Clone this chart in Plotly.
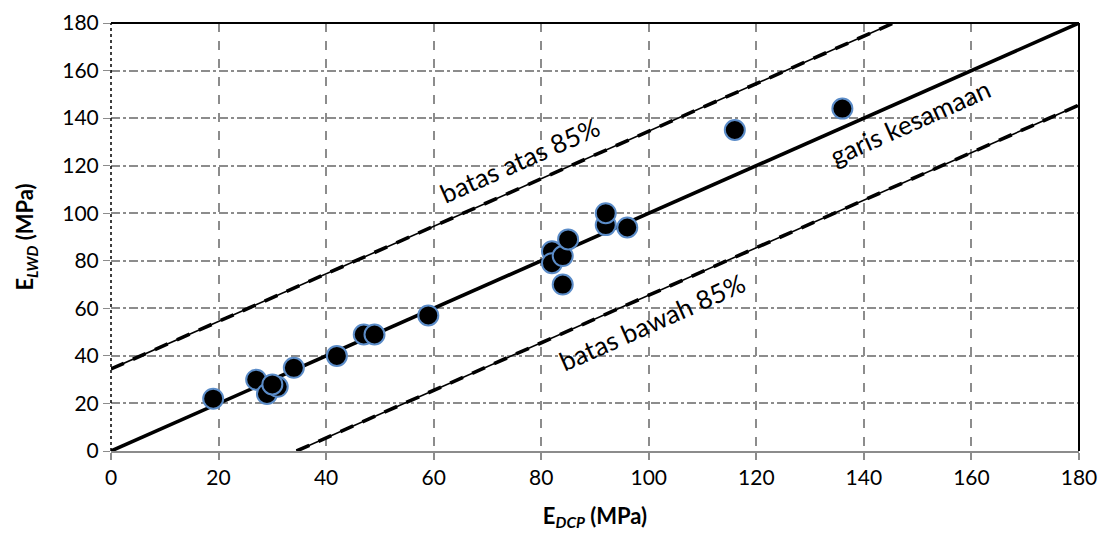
import plotly.graph_objects as go

# Data points (E_DCP, E_LWD) in MPa
e_dcp = [19, 27, 29, 31, 30, 34, 42, 47, 49, 59, 82, 82, 84, 85, 84, 92, 92, 96, 116, 136]
e_lwd = [22, 30, 24, 27, 28, 35, 40, 49, 49, 57, 84, 79, 82, 89, 70, 95, 100, 94, 135, 144]

# Reference lines
line_x = [0, 180]
eq_y = [0, 180]
offset = 34.5
upper_x = [0, 180 - offset]
upper_y = [offset, 180]
lower_x = [offset, 180]
lower_y = [0, 180 - offset]

x_ticks = [0, 20, 40, 60, 80, 100, 120, 140, 160, 180]
y_ticks = [0, 20, 40, 60, 80, 100, 120, 140, 160, 180]

labels = ["batas atas 85%", "batas bawah 85%", "garis kesamaan"]
label_x = [76, 100.6, 148.6]
label_y = [122.5, 54.2, 138.3]

FONT = "Lato, Carlito, Calibri, sans-serif"

fig = go.Figure()

# limit lines: thin solid + thick dashes overlay
for xs, ys in [(upper_x, upper_y), (lower_x, lower_y)]:
    fig.add_trace(go.Scatter(x=xs, y=ys, mode="lines",
                             line=dict(color="black", width=1.6),
                             showlegend=False, hoverinfo="skip"))
    fig.add_trace(go.Scatter(x=xs, y=ys, mode="lines",
                             line=dict(color="black", width=3.6, dash="14px,10px"),
                             showlegend=False, hoverinfo="skip"))

# equality line
fig.add_trace(go.Scatter(x=line_x, y=eq_y, mode="lines",
                         line=dict(color="black", width=3.6),
                         showlegend=False, hoverinfo="skip"))

# data
fig.add_trace(go.Scatter(x=e_dcp, y=e_lwd, mode="markers",
                         marker=dict(size=20, color="black",
                                     line=dict(color="#5b8cc8", width=2)),
                         showlegend=False))

# border top/right/left
fig.add_shape(type="line", xref="paper", yref="paper", x0=0, x1=1, y0=1, y1=1,
              line=dict(color="black", width=2))
fig.add_shape(type="line", xref="paper", yref="paper", x0=1, x1=1, y0=0, y1=1,
              line=dict(color="black", width=2))
fig.add_shape(type="line", xref="paper", yref="paper", x0=0, x1=0, y0=0, y1=1,
              line=dict(color="black", width=1.5, dash="dot"))

ann_font = dict(family=FONT, size=26, color="black")
for t, ax, ay in zip(labels, label_x, label_y):
    fig.add_annotation(x=ax, y=ay, text=t, showarrow=False,
                       textangle=-24, font=ann_font)

fig.update_layout(
    width=1102, height=538,
    margin=dict(l=111, r=23, t=23, b=87),
    paper_bgcolor="white", plot_bgcolor="white",
    font=dict(family=FONT, size=21, color="black"),
    xaxis=dict(range=[0, 180], tickvals=x_ticks, ticktext=[str(v) for v in x_ticks],
               automargin=False,
               showgrid=True, gridcolor="#8c8c8c", gridwidth=1.5, griddash="dash",
               zeroline=False, showline=True, linecolor="#8c8c8c", linewidth=2,
               ticks="outside", ticklen=7, tickcolor="#8c8c8c", tickwidth=1.5,
               title=dict(text="<b>E<sub><i>DCP</i></sub> (MPa)</b>",
                          font=dict(family=FONT, size=22), standoff=20)),
    yaxis=dict(range=[0, 180], tickvals=y_ticks, ticktext=[str(v) for v in y_ticks],
               automargin=False,
               showgrid=True, gridcolor="#8c8c8c", gridwidth=1.5, griddash="dashdot",
               zeroline=False, showline=False,
               ticks="outside", ticklen=7, tickcolor="#8c8c8c", tickwidth=1,
               title=dict(text="<b>E<sub><i>LWD</i></sub> (MPa)</b>",
                          font=dict(family=FONT, size=22), standoff=22)),
)

fig.write_html("out.html", config={"displayModeBar": False},
               post_script="document.body.style.margin='0';document.body.style.overflow='hidden';")
